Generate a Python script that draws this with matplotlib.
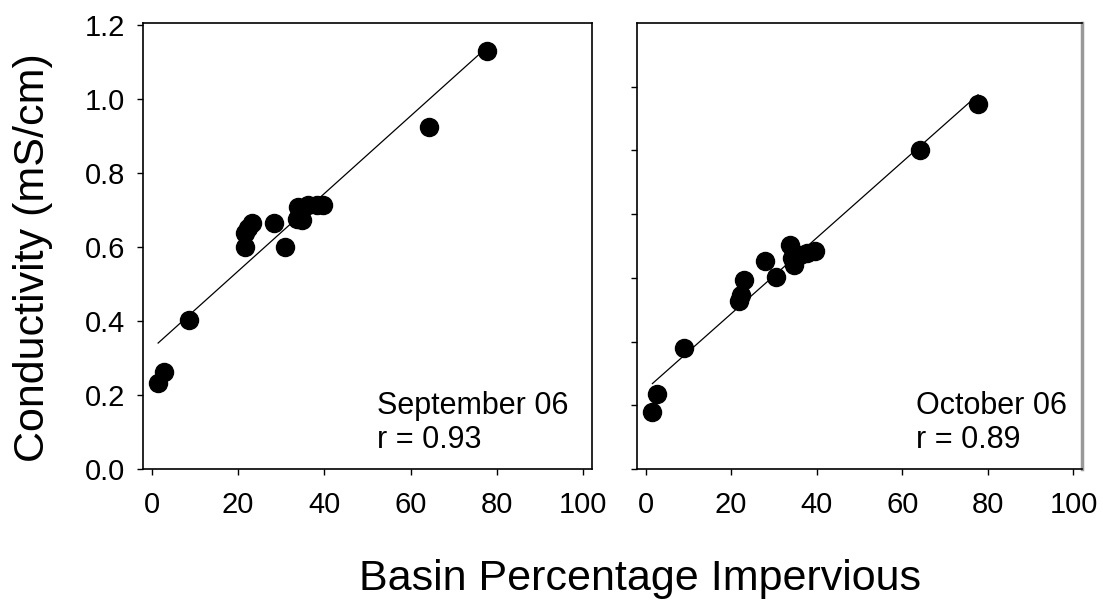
import numpy as np
import matplotlib.pyplot as plt

plt.rcParams['font.family'] = ['Liberation Sans', 'DejaVu Sans']

# September 06
sep_imperv = [77.6, 64.3, 8.7, 1.5, 2.9, 21.6, 21.6, 22.3, 23.2, 28.3, 30.9,
              33.9, 34.8, 33.7, 36.2, 38.2, 39.6]
sep_cond = [1.13, 0.925, 0.403, 0.232, 0.263, 0.601, 0.637, 0.650, 0.664, 0.664, 0.601,
            0.709, 0.673, 0.675, 0.712, 0.714, 0.712]

# October 06 (right panel drawn on its own 0-1.4 scale)
oct_imperv = [77.7, 64.1, 8.9, 2.7, 1.6, 21.8, 22.2, 23.0, 28.0, 30.6,
              33.8, 34.2, 34.6, 37.7, 39.6, 36.2]
oct_cond = [1.145, 1.002, 0.381, 0.236, 0.178, 0.526, 0.547, 0.592, 0.652, 0.603,
            0.704, 0.662, 0.641, 0.678, 0.683, 0.672]

panels = [
    (sep_imperv, sep_cond, "September 06", "r = 0.93", 1.205),
    (oct_imperv, oct_cond, "October 06", "r = 0.89", 1.4),
]

fig = plt.figure(figsize=(11.03, 6.03), dpi=100)
W, H = 1103, 603
boxes = [(143, 23, 592, 469), (637, 23, 1082, 469)]

for i, ((xs, ys, label, rtxt, ytop), (l, t, r, b)) in enumerate(zip(panels, boxes)):
    ax = fig.add_axes([l / W, 1 - b / H, (r - l) / W, (b - t) / H])
    ax.plot(xs, ys, 'o', color='black', markersize=13, zorder=3)
    slope, icpt = np.polyfit(xs, ys, 1)
    xl = np.array([min(xs), max(xs)])
    ax.plot(xl, icpt + slope * xl, color='black', lw=0.9, zorder=2)

    ax.set_xlim(-2, 102)
    ax.set_ylim(0, ytop)
    ax.set_xticks(np.arange(0, 101, 20))
    ax.set_yticks(np.arange(0, 1.21, 0.2))
    ax.tick_params(direction='out', length=4, width=1, labelsize=21)
    ax.tick_params(axis='x', pad=12)
    ax.tick_params(axis='y', pad=9)
    if i == 0:
        ax.set_yticklabels([f"{v:.1f}" for v in np.arange(0, 1.21, 0.2)])
        ax.set_ylabel("Conductivity (mS/cm)", fontsize=31)
        ax.yaxis.set_label_coords(-0.20, 0.475)
    else:
        ax.set_yticklabels([])
        ax.spines['right'].set_color('0.6')
        ax.spines['right'].set_linewidth(2.5)
    for s in ax.spines.values():
        if s is not ax.spines['right'] or i == 0:
            s.set_linewidth(1.2)

    tx = 0.521 if i == 0 else 0.628
    ax.text(tx, 0.123, label, transform=ax.transAxes, fontsize=22, va='baseline')
    ax.text(tx, 0.048, rtxt, transform=ax.transAxes, fontsize=22, va='baseline')

fig.text(0.580, 0.021, "Basin Percentage Impervious", fontsize=31,
         ha='center', va='baseline')

fig.savefig("out.png", dpi=100)
